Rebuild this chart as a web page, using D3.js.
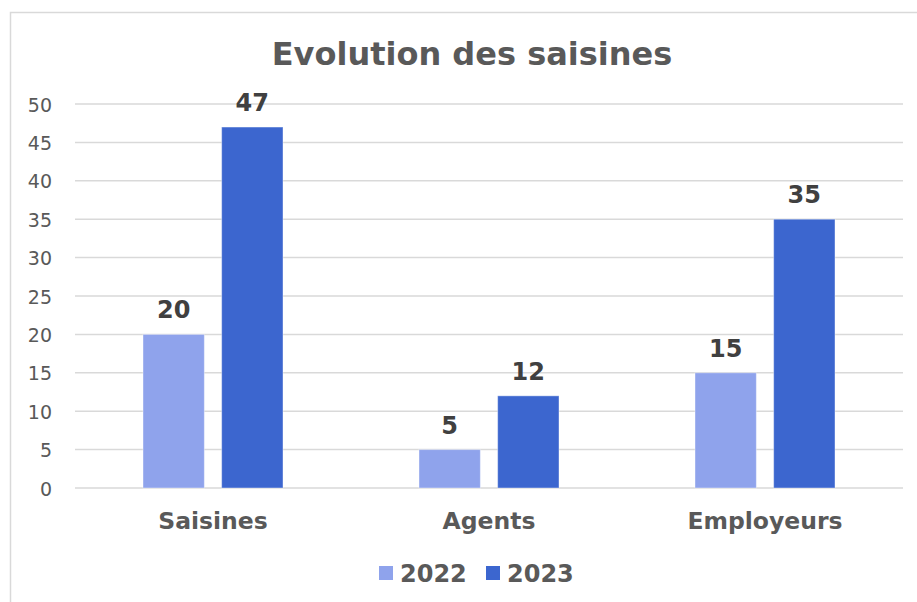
<!DOCTYPE html>
<html>
<head>
<meta charset="utf-8">
<script src="https://cdn.jsdelivr.net/npm/d3@7"></script>
<style>
  body { margin: 0; background: #fff; }
  svg { font-family: "DejaVu Sans", Verdana, sans-serif; }
</style>
</head>
<body>
<div id="chart"></div>
<script>
const categories = ["Saisines", "Agents", "Employeurs"];
const years = ["2022", "2023"];
const values2022 = [20, 5, 15];
const values2023 = [47, 12, 35];
const yTicks = [0, 5, 10, 15, 20, 25, 30, 35, 40, 45, 50];
const colors = ["#8FA3EC", "#3C66CF"];

let width = 917;
let height = 602;
let margin = { left: 75, right: 14, top: 104, bottom: 114 };

let svg = d3.select("#chart")
            .append("svg")
            .attr("width", width)
            .attr("height", height);

// chart frame
svg.append("rect")
   .attr("x", 10.5)
   .attr("y", 12.5)
   .attr("width", width)
   .attr("height", height)
   .attr("fill", "none")
   .attr("stroke", "#d9d9d9")
   .attr("stroke-width", 1.5);

let x = d3.scaleBand()
          .domain(categories)
          .range([margin.left, width - margin.right])
          .paddingInner(0)
          .paddingOuter(0);

let x1 = d3.scaleBand()
           .domain(years)
           .range([68, x.bandwidth() - 68])
           .paddingInner(0.22);

let y = d3.scaleLinear()
          .domain([0, 50])
          .range([height - margin.bottom, margin.top]);

// grid
svg.append("g")
   .selectAll("line")
   .data(yTicks)
   .enter()
   .append("line")
   .attr("x1", margin.left)
   .attr("x2", width - margin.right)
   .attr("y1", function(d) { return y(d); })
   .attr("y2", function(d) { return y(d); })
   .attr("stroke", "#d9d9d9")
   .attr("stroke-width", 1.5);

// y axis labels
let yAxis = svg.append("g")
               .attr("transform", "translate(" + (margin.left - 23) + ",1)")
               .call(d3.axisLeft(y).tickValues(yTicks).tickSize(0).tickPadding(0));
yAxis.select(".domain").remove();
yAxis.selectAll("text")
     .attr("font-size", 19)
     .attr("font-family", "DejaVu Sans, Verdana, sans-serif")
     .attr("fill", "#595959");

let series = [values2022, values2023];

let group = svg.append("g")
               .selectAll("g")
               .data(categories)
               .enter()
               .append("g")
               .attr("transform", function(d) { return "translate(" + x(d) + ",0)"; });

group.selectAll("rect")
     .data(function(d, i) { return years.map(function(yr, k) { return { year: yr, value: series[k][i], k: k }; }); })
     .enter()
     .append("rect")
     .attr("x", function(d) { return x1(d.year); })
     .attr("y", function(d) { return y(d.value); })
     .attr("width", x1.bandwidth())
     .attr("height", function(d) { return y(0) - y(d.value); })
     .attr("fill", function(d) { return colors[d.k]; })
     .attr("stroke", "#ffffff")
     .attr("stroke-opacity", 0.4)
     .attr("stroke-width", 1);

group.selectAll("text.val")
     .data(function(d, i) { return years.map(function(yr, k) { return { year: yr, value: series[k][i] }; }); })
     .enter()
     .append("text")
     .attr("class", "val")
     .attr("x", function(d) { return x1(d.year) + x1.bandwidth() / 2; })
     .attr("y", function(d) { return y(d.value) - 16; })
     .attr("text-anchor", "middle")
     .attr("font-size", 24)
     .attr("font-weight", "bold")
     .attr("fill", "#404040")
     .text(function(d) { return d.value; });

// category labels
svg.append("g")
   .selectAll("text")
   .data(categories)
   .enter()
   .append("text")
   .attr("x", function(d) { return x(d) + x.bandwidth() / 2; })
   .attr("y", 529)
   .attr("text-anchor", "middle")
   .attr("font-size", 23.5)
   .attr("font-weight", "bold")
   .attr("fill", "#595959")
   .text(function(d) { return d; });

// title
svg.append("text")
   .attr("x", 472)
   .attr("y", 65)
   .attr("text-anchor", "middle")
   .attr("font-size", 32)
   .attr("font-weight", "bold")
   .attr("fill", "#595959")
   .text("Evolution des saisines");

// legend
let legend = svg.append("g")
                .selectAll("g")
                .data(years)
                .enter()
                .append("g")
                .attr("transform", function(d, i) { return "translate(" + (379 + i * 107) + ",566)"; });

legend.append("rect")
      .attr("width", 14)
      .attr("height", 14)
      .attr("fill", function(d, i) { return colors[i]; });

legend.append("text")
      .attr("x", 21)
      .attr("y", 16)
      .attr("font-size", 24)
      .attr("font-weight", "bold")
      .attr("fill", "#595959")
      .text(function(d) { return d; });
</script>
</body>
</html>
